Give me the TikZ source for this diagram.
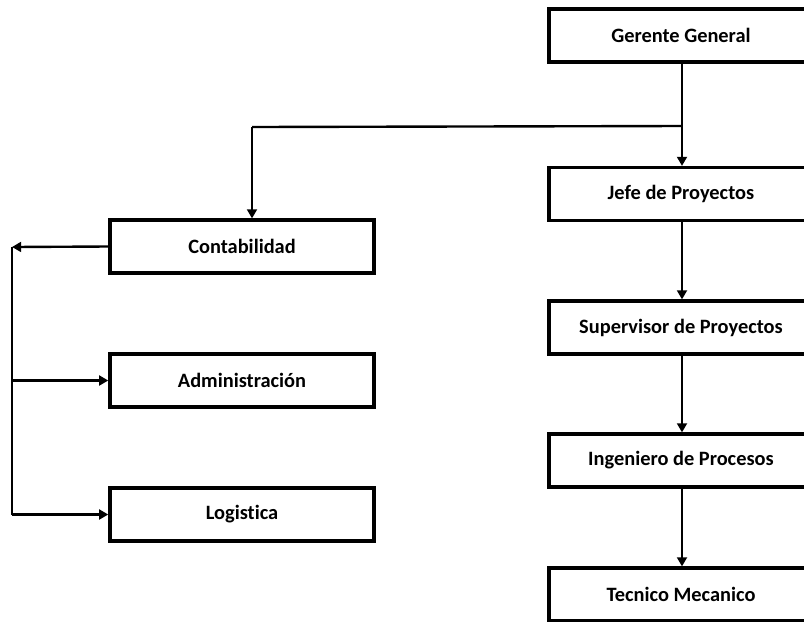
\documentclass[tikz,border=0pt]{standalone}
\usepackage{fontspec}
\setmainfont{Carlito}[Ligatures=NoCommon]
\usepackage{tikz}
\usetikzlibrary{arrows.meta}

\tikzset{
  cargo/.style={draw, line width=2.4pt, minimum width=6.6cm, minimum height=1.32cm,
    inner sep=0pt, font=\fontsize{14.5}{17}\selectfont\bfseries},
  flecha/.style={line width=1.7pt, -{Triangle[length=6.5pt,width=7pt]}},
  linea/.style={line width=1.7pt}
}

\begin{document}
\begin{tikzpicture}[x=0.025cm, y=-0.025cm]
    \useasboundingbox (0,0) rectangle (804,621);
    % columna derecha
    \node[cargo] (gerente) at (681,35.5) {Gerente General};
    \node[cargo] (jefe) at (681,194) {Jefe de Proyectos};
    \node[cargo] (super) at (681,327.5) {Supervisor de Proyectos};
    \node[cargo] (ingeniero) at (681,460.5) {Ingeniero de Procesos};
    \node[cargo] (tecnico) at (681,594.5) {Tecnico Mecanico};
    % columna izquierda
    \node[cargo] (conta) at (242,246.5) {Contabilidad};
    \node[cargo] (admin) at (242,380.5) {Administración};
    \node[cargo] (logis) at (242,514.5) {Logistica};

    \coordinate (rama) at (682,126);
    \coordinate (ramaizq) at (252,127);
    \coordinate (busarriba) at (12,247);
    \coordinate (busabajo) at (12,514.5);

    \draw[flecha] (gerente.south -| rama) -- (jefe.north -| rama);
    \draw[flecha] (jefe.south -| rama) -- (super.north -| rama);
    \draw[flecha] (super.south -| rama) -- (ingeniero.north -| rama);
    \draw[flecha] (ingeniero.south -| rama) -- (tecnico.north -| rama);

    \draw[linea] (rama) -- (ramaizq);
    \draw[flecha] (ramaizq) -- (conta.north -| ramaizq);
    \draw[flecha] (conta.west) -- (busarriba);
    \draw[linea] (busarriba) -- (busabajo);
    \draw[flecha] (busarriba |- admin.west) -- (admin.west);
    \draw[flecha] (busabajo) -- (logis.west);
  \end{tikzpicture}
\end{document}
